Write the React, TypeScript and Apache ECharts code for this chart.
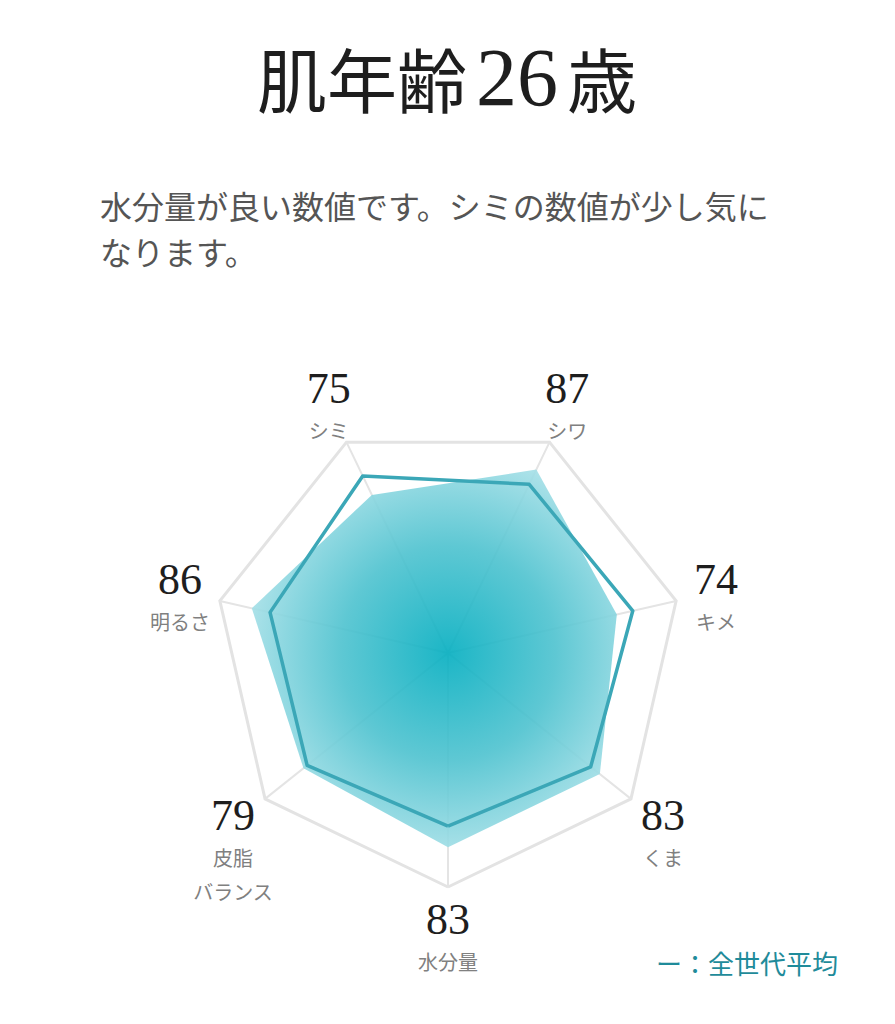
import React, { useEffect, useRef } from 'react';
import * as echarts from 'echarts';

// indicators, counter-clockwise starting from the bottom vertex
const indicatorNames = ['水分量', 'くま', 'キメ', 'シワ', 'シミ', '明るさ', '皮脂\nバランス'];
const scores = [83, 83, 74, 87, 75, 86, 79];
const generationAverage = [74, 78, 81, 80, 84, 78, 77];

const comment = '水分量が良い数値です。シミの数値が少し気になります。';
const legendText = 'ー：全世代平均';

const SERIF = "'Liberation Serif', 'DejaVu Serif', serif";
const SANS = "'Noto Sans CJK JP', 'Noto Sans', sans-serif";

const CX = 448;
const CY = 653;
const RADIUS = 234;
const START_ANGLE = 270;

const App: React.FC = () => {
    const chartRef = useRef<HTMLDivElement>(null);

    useEffect(() => {
        if (!chartRef.current) return;
        const chart = echarts.init(chartRef.current, null, { renderer: 'svg' });

        const fill = new echarts.graphic.RadialGradient(
            CX,
            CY,
            215,
            [
                { offset: 0, color: '#03aec0' },
                { offset: 0.5, color: '#4dc2cf' },
                { offset: 1, color: '#b0e3ea' },
            ],
            true
        );

        // label for each indicator: score on top, name below.
        // side and lower labels get pushed down a little
        const formatName = (name?: string) => {
            const label = name || '';
            const i = indicatorNames.indexOf(label);
            const angle = ((START_ANGLE + (i * 360) / indicatorNames.length) * Math.PI) / 180;
            const extraLines = label.split('\n').length - 1;
            const lines = label.split('\n').map(l => `{n|${l}}`).join('\n');
            const s = Math.sin(angle);
            let prefix = '';
            if (s < -0.1) {
                prefix = extraLines > 0 ? '{s2| }\n' : '{s1| }\n';
            } else if (s < 0.5) {
                prefix = '{s0| }\n';
            }
            return `${prefix}{v|${scores[i]}}\n${lines}`;
        };

        const option: echarts.EChartsOption = {
            animation: false,
            backgroundColor: '#fff',
            graphic: [
                {
                    type: 'text',
                    x: 447,
                    y: 77,
                    style: {
                        text: '{c|肌年齢}{d|26}{c|歳}',
                        align: 'center',
                        verticalAlign: 'middle',
                        fill: '#1e1e1e',
                        rich: {
                            c: { fontFamily: SANS, fontSize: 70, fill: '#1e1e1e' },
                            d: {
                                fontFamily: SERIF,
                                fontSize: 82,
                                fill: '#1e1e1e',
                                padding: [0, 9, 0, 9],
                            },
                        },
                    } as any,
                },
                {
                    type: 'text',
                    x: 100,
                    y: 182,
                    style: {
                        text: comment,
                        width: 700,
                        overflow: 'break',
                        fontFamily: SANS,
                        fontSize: 32,
                        lineHeight: 46,
                        fill: '#555',
                        align: 'left',
                        verticalAlign: 'top',
                    },
                },
                {
                    type: 'text',
                    x: 838,
                    y: 962,
                    style: {
                        text: legendText,
                        fontFamily: SANS,
                        fontSize: 26,
                        fill: '#1f8b9a',
                        align: 'right',
                        verticalAlign: 'middle',
                    },
                },
            ],
            radar: {
                center: [CX, CY],
                radius: RADIUS,
                startAngle: START_ANGLE,
                splitNumber: 1,
                shape: 'polygon',
                z: 0,
                nameGap: 41,
                indicator: indicatorNames.map(name => ({ name, min: 0, max: 100 })),
                axisName: {
                    align: 'center',
                    verticalAlign: 'middle',
                    formatter: formatName,
                    rich: {
                        v: {
                            fontFamily: SERIF,
                            fontSize: 44,
                            lineHeight: 50,
                            color: '#1e1e1e',
                            align: 'center',
                        },
                        n: {
                            fontFamily: SANS,
                            fontSize: 20,
                            lineHeight: 34,
                            color: '#808080',
                            align: 'center',
                        },
                        s0: { fontSize: 8, lineHeight: 10 },
                        s1: { fontSize: 10, lineHeight: 16 },
                        s2: { fontSize: 10, lineHeight: 50 },
                    },
                } as any,
                splitLine: { lineStyle: { color: '#e3e3e3', width: 3 } },
                splitArea: { show: false },
                axisLine: { lineStyle: { color: '#e4e4e4', width: 2 } },
            },
            series: [
                {
                    type: 'radar',
                    z: 1,
                    symbol: 'none',
                    data: [
                        {
                            name: '肌スコア',
                            value: scores,
                            lineStyle: { width: 0, opacity: 0 },
                            areaStyle: { color: fill, opacity: 0.9 },
                        },
                    ],
                },
                {
                    type: 'radar',
                    z: 2,
                    symbol: 'none',
                    data: [
                        {
                            name: '全世代平均',
                            value: generationAverage,
                            lineStyle: { color: '#3ba7b7', width: 3.5 },
                        },
                    ],
                },
            ],
        };

        chart.setOption(option);

        return () => {
            chart.dispose();
        };
    }, []);

    return (
        <div
            ref={chartRef}
            style={{ position: 'absolute', left: 0, top: 0, width: 895, height: 1024 }}
        />
    );
};

export default App;
